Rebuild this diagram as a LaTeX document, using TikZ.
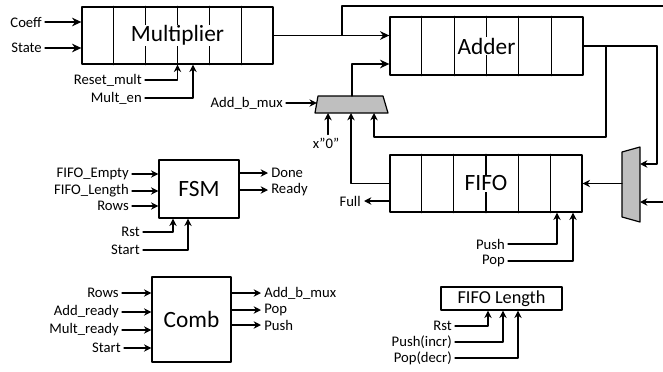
\documentclass[tikz,border=0pt]{standalone}
\usepackage{fontspec}
\setmainfont{Carlito}
\usetikzlibrary{arrows.meta,calc}

\begin{document}
\begin{tikzpicture}[x=0.75pt, y=-0.75pt, line width=0.9pt, line cap=round, line join=round,
  every node/.style={font=\fontsize{11}{13}\selectfont},
  lbl/.style={inner sep=2pt},
  blk/.style={draw, line width=1pt, inner sep=0pt},
  big/.style={font=\fontsize{17.5}{20}\selectfont},
  sig/.style={-{Stealth[length=5.5pt, width=5.5pt]}},
  bigsig/.style={-{Stealth[length=7pt, width=6.5pt]}},
  mux/.style={draw, fill=black!25, line width=0.9pt}]
  \useasboundingbox (0,0) rectangle (663,371);

  % register blocks
  \node[blk, minimum width=143.25pt, minimum height=42.75pt] (mult) at (177.5,35.5) {};
  \node[blk, minimum width=144.75pt, minimum height=43.5pt] (adder) at (486.5,46) {};
  \node[blk, minimum width=144pt, minimum height=42.75pt] (fifo) at (486,183.5) {};
  \foreach \b in {mult,adder,fifo}
    \foreach \i in {1,...,5}
      \draw ($(\b.north west)!\i/6!(\b.north east)$) -- ($(\b.south west)!\i/6!(\b.south east)$);
  \node[big, fill=white, inner sep=0.5pt] (multname) at (mult) {Multiplier};
  \node[big, fill=white, inner sep=0.5pt] (addername) at (adder) {Adder};
  \node[big, fill=white, inner sep=0.5pt] (fifoname) at (fifo) {FIFO};

  % other blocks
  \node[blk, big, minimum width=60pt, minimum height=43.5pt] (fsm) at (199,189) {FSM};
  \node[blk, big, minimum width=59.25pt, minimum height=63.75pt] (comb) at (191.5,319.5) {Comb};
  \node[blk, font=\fontsize{13.7}{16}\selectfont, minimum width=90.75pt, minimum height=17.25pt] (flen) at (501.5,298.5) {FIFO Length};

  % muxes
  \draw[mux] (318,96) -- (383,96) -- (388,113) -- (315,113) -- cycle;
  \coordinate (amuxout) at (352,96);
  \coordinate (amuxsel) at (316.8,103);
  \coordinate (amuxa) at (328,113);
  \coordinate (amuxb) at (351,113);
  \coordinate (amuxc) at (374,113);
  \draw[mux] (622,152) -- (640,147) -- (640,222) -- (622,217) -- cycle;
  \coordinate (rmuxout) at (622,183.5);
  \coordinate (rmuxa) at (640,164);
  \coordinate (rmuxb) at (640,202);

  % multiplier
  \node[lbl, anchor=east] (coeff) at (45,22) {Coeff};
  \node[lbl, anchor=east] (state) at (45,48) {State};
  \draw[bigsig] (coeff.east) -- (coeff.east -| mult.west);
  \draw[bigsig] (state.east) -- (state.east -| mult.west);
  \node[lbl, anchor=east] (rstmult) at (145,80) {Reset\_mult};
  \node[lbl, anchor=east] (multen) at (145,98) {Mult\_en};
  \draw[sig] (rstmult.east) -| (mult.south);
  \draw[sig] (multen.east) -| ($(mult.south)+(15.5,0)$);
  \draw[bigsig] (mult.east) -- (mult.east -| adder.west);
  \coordinate (tap) at (342,35.5);
  \coordinate (topright) at (663,6);
  \draw (tap) |- (topright);

  % adder input mux
  \draw[bigsig] (amuxout) |- ($(adder.west)+(0,18)$);
  \node[lbl, anchor=east] (addbmux) at (286,103) {Add\_b\_mux};
  \draw[sig] (addbmux.east) -- (amuxsel);
  \node[lbl] (zero) at (326,143) {x”0”};
  \draw[sig] (amuxa |- zero.north) -- (amuxa);

  % adder feedback
  \coordinate (adtap) at (606,46);
  \coordinate (adright) at (657,46);
  \coordinate (fbcorner) at (374,137);
  \draw (adder.east) -- (adright);
  \draw[sig] (adtap) |- (fbcorner) -- (amuxc);
  \draw[sig] (adright) |- (rmuxa);

  % fifo
  \draw[sig] (fifo.west) -| (amuxb);
  \node[lbl, anchor=east] (full) at (364,201) {Full};
  \draw[sig] ($(fifo.west)+(0,17.5)$) -- (full.east);
  \draw[sig] (rmuxout) -- (fifo.east);
  \coordinate (rightin) at (663,202);
  \draw[sig] (rightin) -- (rmuxb);
  \node[lbl, anchor=east] (push) at (508,244) {Push};
  \node[lbl, anchor=east] (pop) at (508,261) {Pop};
  \draw[sig] (push.east) -| ($(fifo.south)+(71,0)$);
  \draw[sig] (pop.east) -| ($(fifo.south)+(87,0)$);

  % fsm
  \node[lbl, anchor=east] (fempty) at (132,174) {FIFO\_Empty};
  \node[lbl, anchor=east] (flength) at (132,191) {FIFO\_Length};
  \node[lbl, anchor=east] (fsmrows) at (132,206) {Rows};
  \foreach \n in {fempty,flength,fsmrows}
    \draw[sig] (\n.east) -- (\n.east -| fsm.west);
  \node[lbl, anchor=east] (fsmrst) at (143,232) {Rst};
  \node[lbl, anchor=east] (fsmstart) at (143,250) {Start};
  \draw[sig] (fsmrst.east) -| ($(fsm.south)+(-26,0)$);
  \draw[sig] (fsmstart.east) -| ($(fsm.south)+(-11,0)$);
  \node[lbl, anchor=west] (done) at (268,173) {Done};
  \node[lbl, anchor=west] (ready) at (268,190) {Ready};
  \foreach \n in {done,ready}
    \draw[sig] (\n.west -| fsm.east) -- (\n.west);

  % comb
  \node[lbl, anchor=east] (combrows) at (122,293) {Rows};
  \node[lbl, anchor=east] (addready) at (122,312) {Add\_ready};
  \node[lbl, anchor=east] (multready) at (122,330) {Mult\_ready};
  \node[lbl, anchor=east] (combstart) at (124,348) {Start};
  \foreach \n in {combrows,addready,multready,combstart}
    \draw[sig] (\n.east) -- (\n.east -| comb.west);
  \node[lbl, anchor=west] (combaddb) at (261,293) {Add\_b\_mux};
  \node[lbl, anchor=west] (combpop) at (261,310) {Pop};
  \node[lbl, anchor=west] (combpush) at (261,325) {Push};
  \foreach \n in {combaddb,combpop,combpush}
    \draw[sig] (\n.west -| comb.east) -- (\n.west);

  % fifo length
  \node[lbl, anchor=east] (flrst) at (455,326) {Rst};
  \node[lbl, anchor=east] (flpush) at (455,342) {Push(incr)};
  \node[lbl, anchor=east] (flpop) at (455,358) {Pop(decr)};
  \draw[sig] (flrst.east) -| ($(flen.south)+(-13.5,0)$);
  \draw[sig] (flpush.east) -| ($(flen.south)+(1.5,0)$);
  \draw[sig] (flpop.east) -| ($(flen.south)+(16.5,0)$);
\end{tikzpicture}
\end{document}
